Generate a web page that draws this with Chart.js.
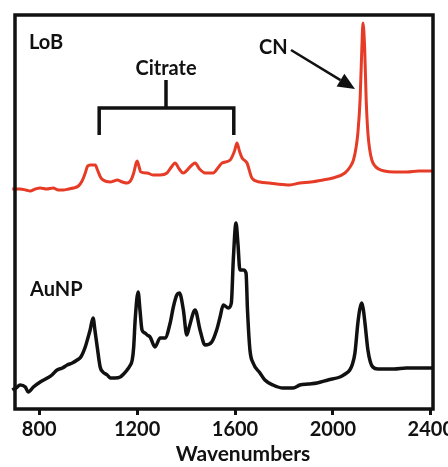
<!DOCTYPE html>
<html>
<head>
<meta charset="utf-8">
<script src="https://cdn.jsdelivr.net/npm/chart.js@4.4.1/dist/chart.umd.min.js"></script>
<style>
  html, body { margin: 0; padding: 0; background: #fff; }
</style>
</head>
<body>
<canvas id="spectra" width="448" height="467"></canvas>
<script>
// x axis ticks (cm-1)
const tickValues = [800, 1200, 1600, 2000, 2400];

// LoB spectrum (red, offset upward)
const lobWavenumbers = [690, 722, 745, 763, 784, 804, 830, 857, 878, 898, 920, 939, 960, 975, 988, 998, 1008, 1029, 1038, 1050,
  1061, 1090, 1105, 1118, 1140, 1159, 1175, 1186, 1196, 1200, 1206, 1215, 1241, 1265, 1294, 1322, 1340, 1355, 1372, 1388,
  1420, 1437, 1455, 1478, 1510, 1530, 1547, 1580, 1598, 1608, 1618, 1629, 1649, 1669, 1702, 1740, 1771, 1824, 1865, 1910,
  1959, 2000, 2049, 2070, 2084, 2095, 2102, 2111, 2118, 2123, 2130, 2136, 2143, 2150, 2159, 2172, 2187, 2210, 2250, 2302,
  2350, 2396, 2412];
const lobIntensity = [220, 220, 219, 218, 220, 221, 220, 221, 219, 219, 220, 221, 223, 228, 236, 243, 244, 244, 239, 232,
  229, 227, 228, 229, 227, 226, 229, 236, 246, 248, 244, 237, 236, 234, 234, 236, 242, 246, 240, 236,
  243, 246, 240, 236, 236, 241, 246, 249, 258, 266, 258, 251, 246, 231, 227, 226, 225, 224, 226, 227,
  229, 231, 236, 242, 249, 262, 276, 309, 359, 386, 359, 309, 276, 260, 249, 243, 240, 238, 237, 237,
  238, 238, 238];

// AuNP spectrum (black)
const aunpWavenumbers = [690, 705, 722, 743, 755, 776, 804, 833, 852, 873, 895, 914, 935, 955, 970, 988, 1000, 1008, 1020, 1028,
  1037, 1049, 1060, 1078, 1090, 1110, 1131, 1145, 1159, 1170, 1180, 1186, 1192, 1204, 1212, 1220, 1232, 1241, 1253, 1273,
  1294, 1314, 1335, 1348, 1362, 1373, 1389, 1403, 1413, 1437, 1457, 1478, 1505, 1525, 1539, 1552, 1573, 1585, 1593, 1604,
  1612, 1620, 1634, 1645, 1651, 1661, 1674, 1702, 1722, 1755, 1796, 1837, 1865, 1900, 1935, 1980, 2029, 2050, 2069, 2080,
  2090, 2102, 2110, 2118, 2124, 2131, 2143, 2153, 2163, 2184, 2250, 2300, 2350, 2396, 2412];
const aunpIntensity = [19, 21, 24, 22, 17, 22, 27, 31, 34, 39, 41, 44, 46, 49, 52, 62, 72, 79, 91, 78,
  62, 42, 37, 34, 31, 31, 32, 35, 39, 43, 49, 62, 89, 117, 98, 79, 76, 74, 72, 62,
  71, 71, 86, 102, 114, 116, 99, 74, 82, 99, 79, 64, 67, 79, 92, 104, 101, 106, 149, 186,
  165, 139, 139, 136, 99, 59, 46, 36, 29, 24, 21, 21, 24, 25, 26, 29, 32, 35, 39, 45,
  56, 86, 100, 106, 100, 86, 59, 47, 42, 40, 40, 41, 41, 41, 41];

const toPoints = (xs, ys) => xs.map((x, i) => ({ x: x, y: ys[i] }));

const FONT = 'Lato, "Open Sans", sans-serif';

const framePlugin = {
  id: 'frame',
  afterDatasetsDraw(chart) {
    const { ctx, chartArea: a } = chart;
    ctx.save();
    ctx.strokeStyle = '#111';
    ctx.lineWidth = 3.5;
    ctx.strokeRect(a.left, a.top, a.right - a.left, a.bottom - a.top);
    ctx.restore();
  }
};

const labelsPlugin = {
  id: 'labels',
  afterDraw(chart) {
    const { ctx } = chart;
    const xs = chart.scales.x;
    ctx.save();
    ctx.fillStyle = '#111';
    ctx.strokeStyle = '#111';
    ctx.textBaseline = 'alphabetic';
    ctx.font = 'bold 20px ' + FONT;

    ctx.textAlign = 'left';
    ctx.fillText('LoB', 29, 49);
    ctx.fillText('AuNP', 30, 296);
    ctx.fillText('CN', 259, 54);

    ctx.textAlign = 'center';
    ctx.fillText('Citrate', 166, 75);
    ctx.font = 'bold 21px ' + FONT;
    ctx.fillText('Wavenumbers', 243, 461);

    // citrate bracket
    const bl = xs.getPixelForValue(1045);
    const br = xs.getPixelForValue(1595);
    const bm = xs.getPixelForValue(1318);
    ctx.lineWidth = 3.5;
    ctx.lineCap = 'butt';
    ctx.beginPath();
    ctx.moveTo(bm, 80);
    ctx.lineTo(bm, 108);
    ctx.moveTo(bl, 135);
    ctx.lineTo(bl, 108);
    ctx.lineTo(br, 108);
    ctx.lineTo(br, 135);
    ctx.stroke();

    // CN arrow
    const sx = 291, sy = 50, tx = 355, ty = 89;
    const len = Math.hypot(tx - sx, ty - sy);
    const ux = (tx - sx) / len, uy = (ty - sy) / len;
    const hl = 17, hw = 7.5;
    ctx.lineWidth = 2.5;
    ctx.beginPath();
    ctx.moveTo(sx, sy);
    ctx.lineTo(tx - ux * hl, ty - uy * hl);
    ctx.stroke();
    ctx.beginPath();
    ctx.moveTo(tx, ty);
    ctx.lineTo(tx - ux * hl - uy * hw, ty - uy * hl + ux * hw);
    ctx.lineTo(tx - ux * hl + uy * hw, ty - uy * hl - ux * hw);
    ctx.closePath();
    ctx.fill();
    ctx.restore();
  }
};

new Chart(document.getElementById('spectra'), {
  type: 'line',
  data: {
    datasets: [
      {
        label: 'LoB',
        data: toPoints(lobWavenumbers, lobIntensity),
        borderColor: '#e63b26',
        borderWidth: 3,
        pointRadius: 0,
        cubicInterpolationMode: 'monotone',
        clip: { left: 4, top: 0, right: 0, bottom: 0 }
      },
      {
        label: 'AuNP',
        data: toPoints(aunpWavenumbers, aunpIntensity),
        borderColor: '#111',
        borderWidth: 3.5,
        pointRadius: 0,
        cubicInterpolationMode: 'monotone',
        clip: { left: 4, top: 0, right: 0, bottom: 0 }
      }
    ]
  },
  options: {
    responsive: false,
    animation: false,
    events: [],
    layout: { padding: { top: 15, left: 15, right: 15, bottom: 0 } },
    plugins: { legend: { display: false }, tooltip: { enabled: false } },
    scales: {
      x: {
        type: 'linear',
        min: 701,
        max: 2409,
        afterBuildTicks: (s) => { s.ticks = tickValues.map(v => ({ value: v })); },
        afterFit: (s) => { s.height = 58; s.paddingLeft = 0; s.paddingRight = 0; },
        border: { display: false },
        grid: {
          drawOnChartArea: false,
          drawTicks: true,
          tickLength: 6,
          tickWidth: 3,
          tickColor: '#111'
        },
        ticks: {
          autoSkip: false,
          maxRotation: 0,
          padding: 3,
          color: '#111',
          callback: (v) => String(v),
          font: { family: FONT, size: 20, weight: 'bold' }
        }
      },
      y: {
        display: false,
        min: 0,
        max: 394
      }
    }
  },
  plugins: [framePlugin, labelsPlugin]
});
</script>
</body>
</html>
